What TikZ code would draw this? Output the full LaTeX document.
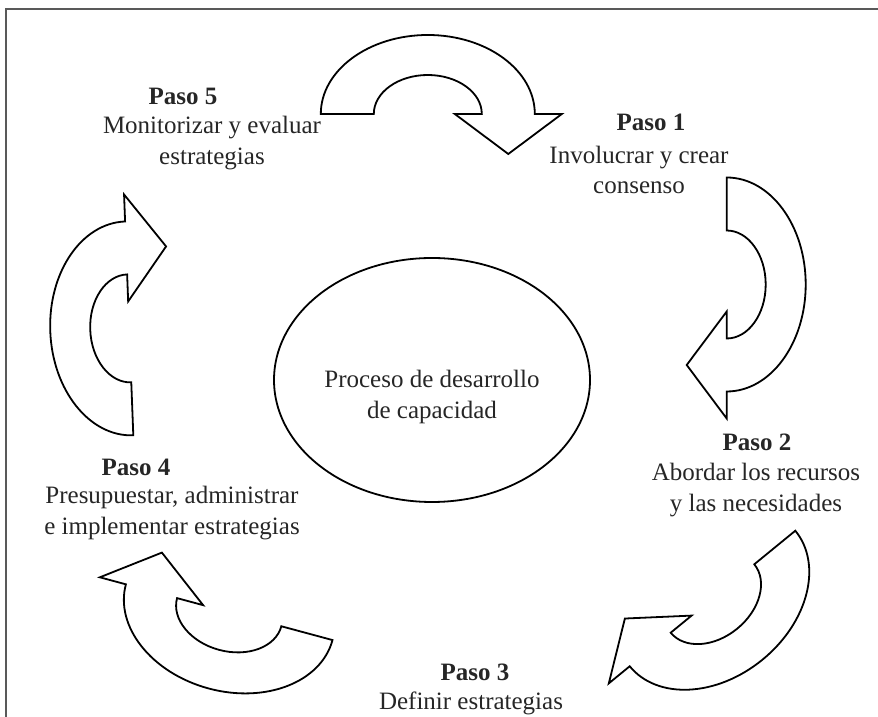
\documentclass[tikz,border=0pt]{standalone}
\usepackage{fontspec}
\setmainfont{Liberation Serif}
\usetikzlibrary{shapes.geometric}
\begin{document}
\begin{tikzpicture}[x=1pt,y=1pt,
  arrowline/.style={draw=black, fill=white, line width=1.8pt, line join=miter},
  curvarrow/.pic={\path[arrowline] (-107,0) arc[start angle=180,end angle=0,x radius=107,y radius=79] -- (134,0) -- (80.5,-40) -- (27,0) -- (54,0) arc[start angle=0,end angle=180,x radius=54,y radius=39] -- cycle;},
  titletext/.style={font=\fontsize{25}{30.5}\selectfont\bfseries, text=black!85, inner sep=0pt},
  bodytext/.style={font=\fontsize{25}{30.5}\selectfont, text=black!85, align=center, inner sep=0pt},
  frameline/.style={draw=black!65, line width=1.6pt}]
\useasboundingbox (0,0) rectangle (878,717);
\coordinate (ftl) at (6,708);
\coordinate (ftr) at (878,708);
\coordinate (fbl) at (6,0);
\draw[frameline] (fbl) -- (ftl) -- (ftr);

\pic (arTop) at (427.8,603) {curvarrow};
\pic[rotate=-90] (arRight) at (726.7,432.5) {curvarrow};
\pic[rotate=219.3] (arBR) at (712.5,118.5) {curvarrow};
\pic[rotate=164.9] (arBL) at (229.2,104.8) {curvarrow};
\pic[rotate=92.2] (arLeft) at (129.2,388.6) {curvarrow};

\node[draw=black, line width=1.8pt, ellipse, minimum width=316pt, minimum height=244pt, inner sep=0pt] (core) at (432,337) {};
\node[bodytext] (corelabel) at (432,320) {Proceso de desarrollo\\de capacidad};

\node[titletext] (t5) at (183,621) {Paso 5};
\node[bodytext] (b5) at (212,574) {Monitorizar y evaluar\\estrategias};
\node[titletext] (t1) at (651,595) {Paso 1};
\node[bodytext] (b1) at (639,547) {Involucrar y crear\\consenso};
\node[titletext] (t2) at (757,275) {Paso 2};
\node[bodytext] (b2) at (756,227) {Abordar los recursos\\y las necesidades};
\node[titletext] (t3) at (475,45) {Paso 3};
\node[bodytext] (b3) at (471,14) {Definir estrategias};
\node[titletext] (t4) at (136,250) {Paso 4};
\node[bodytext] (b4) at (172,204) {Presupuestar, administrar\\e implementar estrategias};
\end{tikzpicture}
\end{document}
